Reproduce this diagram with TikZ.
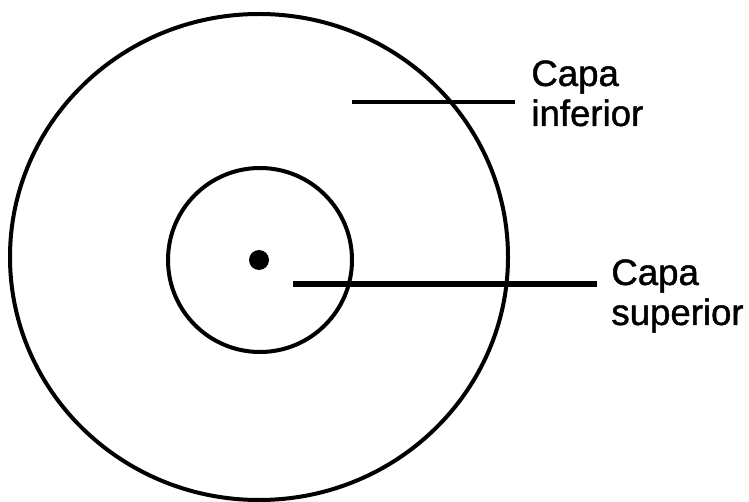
\documentclass[tikz,border=0pt]{standalone}
\usepackage{fontspec}
\setmainfont{Liberation Sans}
\newfontfamily\labelfont{Liberation Sans}[FakeBold=1.2]
\usetikzlibrary{positioning,calc}

\begin{document}
\begin{tikzpicture}[
        x=0.5pt, y=-0.5pt,
        ringLine/.style={
            line width=2pt,
            draw=black
        },
        leaderLine/.style={
            line width=2pt,
            draw=black
        },
        labelText/.style={
            font=\labelfont\fontsize{18.3}{20}\selectfont,
            align=left,
            inner sep=0pt,
            anchor=north west
        }
    ]
        \useasboundingbox (0,0) rectangle (749,502);

        % Rings
        \draw[ringLine] (259,257) ellipse[x radius=124.5pt, y radius=121.5pt];
        \draw[ringLine] (260,260) circle[radius=46pt];
        \fill (259,260) circle[radius=5pt];

        % Labels
        \node[labelText] (infLabel) at (531,60) {Capa\\inferior};
        \node[labelText] (supLabel) at (611,259) {Capa\\superior};

        % Leader lines
        \coordinate (infStart) at (352,102);
        \coordinate (supStart) at (293,284);

        \draw[leaderLine]
            (infStart)
            --
            ([xshift=-8pt]infStart -| infLabel.west);

        \draw[leaderLine, line width=3pt]
            (supStart)
            --
            ([xshift=-7pt]supStart -| supLabel.west);

    \end{tikzpicture}
\end{document}
